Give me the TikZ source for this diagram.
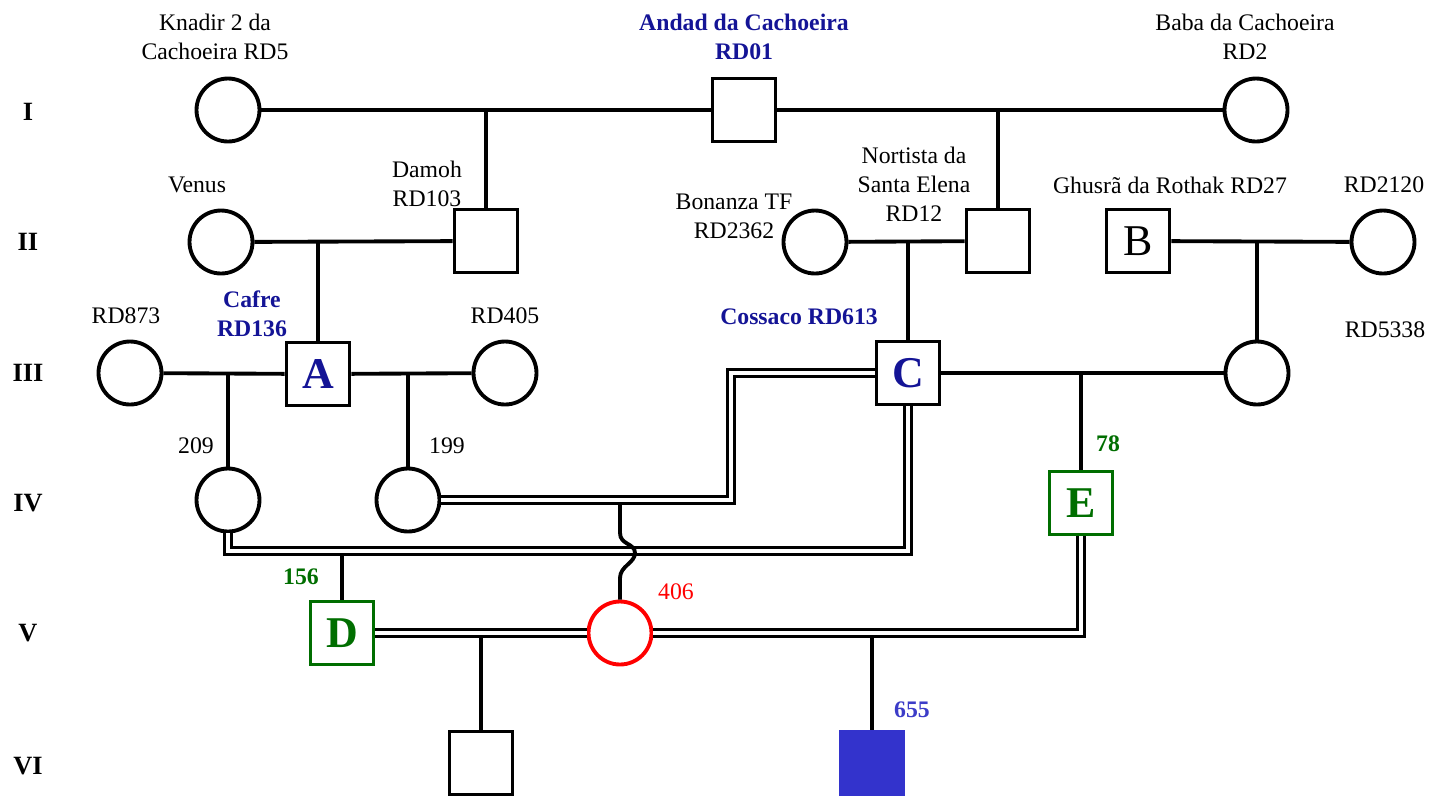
\documentclass[tikz,border=0pt]{standalone}
\usepackage{fontspec}
\setmainfont{Liberation Serif}
\usetikzlibrary{positioning}
\definecolor{cnavy}{RGB}{20,20,150}
\definecolor{cgreen}{RGB}{0,110,0}
\definecolor{cblue}{RGB}{51,51,204}
\definecolor{clabel}{RGB}{60,60,200}
\tikzset{
	fem/.style={circle,draw,minimum size=1.26cm,inner sep=0pt},
	mal/.style={rectangle,draw,minimum size=1.26cm,inner sep=0pt},
	lbl/.style={font=\fontsize{13.5}{16.5}\selectfont,align=center},
	blbl/.style={font=\fontsize{13.5}{16.5}\selectfont\bfseries,align=center,text=cnavy},
	gen/.style={font=\fontsize{15}{18}\selectfont\bfseries},
	big/.style={font=\fontsize{25}{25}\selectfont\bfseries},
	dbl/.style={double,double distance=2pt,line width=2pt},
}

\begin{document}
\begin{tikzpicture}[x=0.02cm,y=-0.02cm,line width=2.2pt]
	\useasboundingbox (0,0) rectangle (1445,796);
	% generations
	\node[gen] (g1) at (28,112) {I};
	\node[gen] (g2) at (28,242) {II};
	\node[gen] (g3) at (28,373) {III};
	\node[gen] (g4) at (28,503) {IV};
	\node[gen] (g5) at (28,633) {V};
	\node[gen] (g6) at (28,766) {VI};
	% I
	\node[fem] (knadir) at (228,110) {};
	\node[mal] (andad) at (744,110) {};
	\node[fem] (baba) at (1256,110) {};
	\node[lbl] at (215,37) {Knadir 2 da\\Cachoeira RD5};
	\node[blbl] at (744,37) {Andad da Cachoeira\\RD01};
	\node[lbl] at (1245,37) {Baba da Cachoeira\\RD2};
	% II
	\node[fem] (venus) at (221,242) {};
	\node[mal] (damoh) at (486,241) {};
	\node[fem] (bonanza) at (815,242) {};
	\node[mal] (nortista) at (998,241) {};
	\node[mal,big,font=\fontsize{25}{25}\selectfont] (ghusra) at (1138,241) {B};
	\node[fem] (rdtwo) at (1383,242) {};
	\node[lbl] at (197,185) {Venus};
	\node[lbl] at (427,184) {Damoh\\RD103};
	\node[lbl] at (734,216) {Bonanza TF\\RD2362};
	\node[lbl] at (914,184) {Nortista da\\Santa Elena\\RD12};
	\node[lbl] at (1170,185) {Ghusrã da Rothak RD27};
	\node[lbl] at (1384,185) {RD2120};
	% III
	\node[fem] (rdeight) at (130,373) {};
	\node[mal,big,text=cnavy] (cafre) at (318,374) {A};
	\node[fem] (rdfour) at (505,373) {};
	\node[mal,big,text=cnavy] (cossaco) at (908,373) {C};
	\node[fem] (rdfive) at (1257,373) {};
	\node[lbl] at (126,316) {RD873};
	\node[blbl] at (252,314) {Cafre\\RD136};
	\node[lbl] at (505,316) {RD405};
	\node[blbl] at (799,317) {Cossaco RD613};
	\node[lbl] at (1385,330) {RD5338};
	% IV
	\node[fem] (f209) at (228,500) {};
	\node[fem] (f199) at (408,500) {};
	\node[mal,big,draw=cgreen,text=cgreen] (e78) at (1081,503) {E};
	\node[lbl] at (196,446) {209};
	\node[lbl] at (447,446) {199};
	\node[blbl,text=cgreen] at (1108,444) {78};
	% V
	\node[mal,big,draw=cgreen,text=cgreen] (d156) at (342,633) {D};
	\node[fem,draw=red] (f406) at (620,633) {};
	\node[blbl,text=cgreen] at (301,577) {156};
	\node[lbl,text=red] at (676,592) {406};
	% VI
	\node[mal] (son) at (481,763) {};
	\node[mal,draw=cblue,fill=cblue] (s655) at (872,763) {};
	\node[blbl,text=clabel] at (912,710) {655};
	% matings and descent
	\draw (knadir) -- (andad) -- (baba);
	\draw (damoh) -- (damoh |- andad);
	\draw (nortista) -- (nortista |- andad);
	\draw (venus) -- (damoh);
	\draw (cafre) -- (cafre |- venus);
	\draw (bonanza) -- (nortista);
	\draw (cossaco) -- (cossaco |- bonanza);
	\draw (ghusra) -- (rdtwo);
	\draw (rdfive) -- (rdfive |- ghusra);
	\draw (rdeight) -- (cafre) -- (rdfour);
	\draw (f209) -- (f209 |- rdeight);
	\draw (f199) -- (f199 |- cafre);
	\draw (cossaco) -- (rdfive);
	\draw (e78) -- (e78 |- cossaco);
	\coordinate (j1) at (228,551);
	\draw (d156) -- (d156 |- j1);
	\draw (son) -- (son |- d156);
	\draw (s655) -- (s655 |- d156);
	% consanguineous matings
	\draw[dbl] (f209) -- (f209 |- j1) -- (cossaco |- j1) -- (cossaco);
	\draw (f406 |- f199) -- ++(0,33) .. controls +(0,12) and +(0,-10) .. ++(15,20)
		.. controls +(0,10) and +(0,-12) .. ++(-15,25) -- (f406);
	\coordinate (k1) at (731,500);
	\coordinate (k2) at (731,373);
	\draw[dbl] (f199) -- (k1) -- (k2) -- (cossaco);
	\draw[dbl] (d156) -- (f406);
	\draw[dbl] (f406) -- (e78 |- f406) -- (e78);
\end{tikzpicture}
\end{document}
